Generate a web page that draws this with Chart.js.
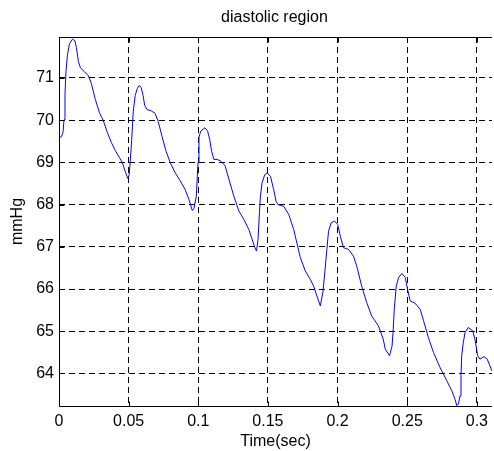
<!DOCTYPE html>
<html>
<head>
<meta charset="utf-8">
<script src="https://cdn.jsdelivr.net/npm/chart.js@4.4.1/dist/chart.umd.min.js"></script>
<style>
  html, body { margin: 0; padding: 0; background: #fff; overflow: hidden; }
  canvas { display: block; }
</style>
</head>
<body>
<canvas id="grafico" width="494" height="451"></canvas>
<script>
// tempo (s) e pressão (mmHg)
const time = [
  0, 0.0018, 0.0029, 0.0036, 0.0043, 0.0050, 0.0061, 0.0075, 0.0097, 0.0114,
  0.0125, 0.0139, 0.0154, 0.0182, 0.0211, 0.0232, 0.0261, 0.0290, 0.0318, 0.0347,
  0.0376, 0.0404, 0.0433, 0.0454, 0.0476, 0.0494, 0.0504, 0.0511, 0.0522, 0.0533,
  0.0547, 0.0562, 0.0576, 0.0590, 0.0604, 0.0615, 0.0633, 0.0662, 0.0690, 0.0712,
  0.0740, 0.0769, 0.0798, 0.0833, 0.0869, 0.0905, 0.0933, 0.0957, 0.0969, 0.0986,
  0.0993, 0.0998, 0.1005, 0.1017, 0.1048, 0.1067, 0.1082, 0.1096, 0.1112, 0.1136,
  0.1160, 0.1191, 0.1220, 0.1255, 0.1291, 0.1327, 0.1363, 0.1386, 0.1406, 0.1418,
  0.1429, 0.1439, 0.1446, 0.1458, 0.1477, 0.1494, 0.1518, 0.1541, 0.1558, 0.1572,
  0.1613, 0.1649, 0.1685, 0.1732, 0.1768, 0.1804, 0.1828, 0.1851, 0.1876, 0.1894,
  0.1906, 0.1923, 0.1935, 0.1954, 0.1978, 0.2001, 0.2019, 0.2042, 0.2078, 0.2114,
  0.2137, 0.2173, 0.2209, 0.2245, 0.2293, 0.2328, 0.2342, 0.2373, 0.2391, 0.2398,
  0.2407, 0.2421, 0.2438, 0.2462, 0.2486, 0.2502, 0.2521, 0.2557, 0.2593, 0.2617,
  0.2652, 0.2688, 0.2736, 0.2784, 0.2820, 0.2843, 0.2856, 0.2868, 0.2879, 0.2886,
  0.2891, 0.2903, 0.2915, 0.2938, 0.2970, 0.2986, 0.3006, 0.3022, 0.3051, 0.3074,
  0.3094, 0.3108
];
const mmHg = [
  69.58, 69.61, 69.71, 70.01, 70.61, 71.15, 71.55, 71.81, 71.92, 71.88,
  71.72, 71.39, 71.24, 71.15, 71.05, 70.87, 70.49, 70.18, 69.99, 69.71,
  69.47, 69.28, 69.12, 69.00, 68.78, 68.62, 68.71, 69.00, 69.54, 70.20,
  70.58, 70.75, 70.82, 70.77, 70.58, 70.35, 70.25, 70.22, 70.16, 69.97,
  69.61, 69.26, 69.00, 68.76, 68.57, 68.36, 68.12, 67.86, 67.91, 68.20,
  68.67, 69.00, 69.59, 69.74, 69.82, 69.74, 69.54, 69.26, 69.07, 69.07,
  69.03, 68.93, 68.60, 68.20, 67.85, 67.65, 67.41, 67.18, 66.98, 66.90,
  67.18, 67.81, 68.20, 68.52, 68.71, 68.75, 68.67, 68.36, 68.08, 68.00,
  67.96, 67.77, 67.41, 66.75, 66.43, 66.23, 66.07, 65.84, 65.60, 65.92,
  66.31, 66.94, 67.37, 67.57, 67.61, 67.53, 67.26, 66.98, 66.94, 66.78,
  66.55, 66.07, 65.68, 65.36, 65.13, 64.81, 64.58, 64.42, 64.65, 64.97,
  65.52, 66.07, 66.27, 66.37, 66.27, 66.00, 65.72, 65.66, 65.52, 65.25,
  64.85, 64.50, 64.14, 63.83, 63.59, 63.39, 63.24, 63.28, 63.47, 63.95,
  64.42, 64.74, 64.97, 65.09, 65.01, 64.81, 64.42, 64.34, 64.40, 64.34,
  64.18, 64.06
];
const xTicks = [0, 0.05, 0.1, 0.15, 0.2, 0.25, 0.3];
const xTickLabels = ['0', '0.05', '0.1', '0.15', '0.2', '0.25', '0.3'];
const yTicks = [64, 65, 66, 67, 68, 69, 70, 71];
const yTickLabels = ['64', '65', '66', '67', '68', '69', '70', '71'];
const titulo = 'diastolic region';

const fonte = "'Liberation Sans', Arial, sans-serif";
Chart.defaults.color = '#000';
Chart.defaults.font.family = fonte;
Chart.defaults.font.size = 16;

// moldura, marcas para dentro e título centrado nos eixos (estilo matlab)
const moldura = {
  id: 'moldura',
  afterDraw(chart) {
    const { ctx, chartArea: a, scales: { x, y } } = chart;
    const L = Math.round(a.left) + 0.5, T = Math.round(a.top) + 0.5, B = Math.round(a.bottom) + 0.5, R = a.right;
    ctx.save();
    ctx.strokeStyle = '#000';
    ctx.lineWidth = 1;
    ctx.beginPath();
    ctx.moveTo(R, T); ctx.lineTo(L, T); ctx.lineTo(L, B); ctx.lineTo(R, B);
    xTicks.forEach(v => {
      const px = Math.round(x.getPixelForValue(v)) + 0.5;
      ctx.moveTo(px, T); ctx.lineTo(px, T + 5);
      ctx.moveTo(px, B); ctx.lineTo(px, B - 5);
    });
    yTicks.forEach(v => {
      const py = Math.round(y.getPixelForValue(v)) + 0.5;
      ctx.moveTo(L, py); ctx.lineTo(L + 5, py);
    });
    ctx.stroke();
    ctx.fillStyle = '#000';
    ctx.font = '16px ' + fonte;
    ctx.textAlign = 'center';
    ctx.textBaseline = 'middle';
    ctx.fillText(titulo, (a.left + a.right) / 2 - 1, 18);
    ctx.restore();
  }
};

new Chart(document.getElementById('grafico'), {
  type: 'line',
  data: {
    datasets: [{
      data: time.map((t, i) => ({ x: t, y: mmHg[i] })),
      borderColor: '#0000ff',
      borderWidth: 1,
      pointRadius: 0,
      tension: 0,
      fill: false
    }]
  },
  options: {
    responsive: false,
    animation: false,
    events: [],
    layout: { padding: { top: 37, left: 0, right: 0, bottom: 0 } },
    plugins: {
      legend: { display: false },
      tooltip: { enabled: false },
      title: { display: false }
    },
    scales: {
      x: {
        type: 'linear',
        min: 0,
        max: 0.3108,
        afterFit: s => { s.height = 45; },
        afterBuildTicks: s => { s.ticks = xTicks.map(v => ({ value: v })); },
        ticks: {
          padding: 6,
          maxRotation: 0,
          autoSkip: false,
          callback: (v, i) => xTickLabels[i]
        },
        grid: { color: '#000', lineWidth: 1, drawTicks: false },
        border: { display: false, dash: [6, 4] },
        title: {
          display: true,
          text: 'Time(sec)',
          font: { size: 16, family: fonte },
          padding: { top: 0, bottom: 0 }
        }
      },
      y: {
        min: 63.23,
        max: 71.97,
        afterFit: s => { s.width = 59; },
        afterBuildTicks: s => { s.ticks = yTicks.map(v => ({ value: v })); },
        ticks: {
          padding: 5,
          autoSkip: false,
          callback: (v, i) => yTickLabels[i]
        },
        grid: { color: '#000', lineWidth: 1, drawTicks: false },
        border: { display: false, dash: [6, 4] },
        title: {
          display: true,
          text: 'mmHg',
          font: { size: 16, family: fonte },
          padding: { top: 8, bottom: 0 }
        }
      }
    }
  },
  plugins: [moldura]
});
</script>
</body>
</html>
